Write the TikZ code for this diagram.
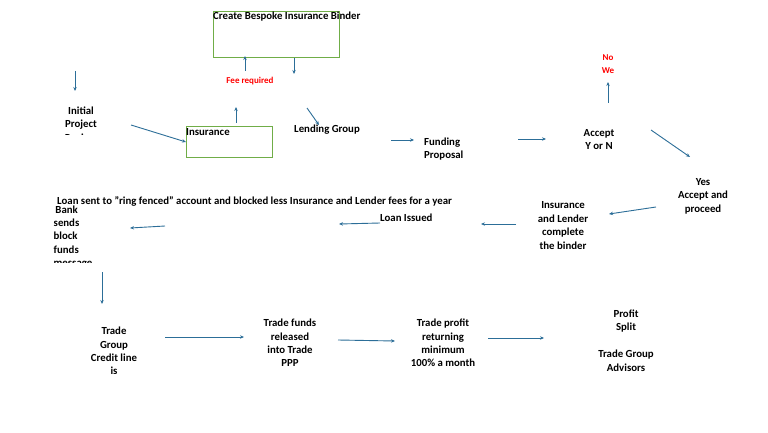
\documentclass[tikz,border=0pt]{standalone}
\usepackage{fontspec}
\setmainfont{Carlito}
\usetikzlibrary{arrows.meta}
\definecolor{arrblue}{RGB}{44,110,152}
\definecolor{boxgreen}{RGB}{112,173,71}
\definecolor{feered}{RGB}{255,0,0}
\begin{document}
\begin{tikzpicture}[x=1pt,y=-1pt,
  txt/.style={font=\fontsize{10.8}{13.4}\selectfont\bfseries, align=center, inner sep=0pt},
  redtxt/.style={font=\fontsize{9}{13}\selectfont\bfseries, text=feered, align=center, inner sep=0pt},
  gbox/.style={draw=boxgreen, line width=1.3pt, anchor=north west, inner sep=0pt},
  arr/.style={draw=arrblue, line width=0.9pt, -{Stealth[length=4pt,width=3.4pt]}}]
\useasboundingbox (0,0) rectangle (768,433);
\fill[white] (0,0) rectangle (768,433);

% boxes
\node[gbox, minimum width=126pt, minimum height=46pt] (binder) at (213,11) {};
\node[txt, anchor=west] (bindertxt) at (213,17) {Create Bespoke Insurance Binder};
\node[gbox, minimum width=86pt, minimum height=31pt] (insbox) at (186,126) {};
\node[txt, anchor=west] (instxt) at (186,132) {Insurance};

% texts
\node[redtxt] (fee) at (250,81) {Fee required};
\begin{scope}
\clip (0,0) rectangle (768,135);
\node[txt] (initial) at (81,124) {Initial\\Project\\Review};
\end{scope}
\node[txt] (lending) at (327,130) {Lending Group};
\node[txt, align=left, anchor=west] (funding) at (424,149) {Funding\\Proposal};
\node[txt] (accept) at (599,139.5) {Accept\\Y or N};
\node[redtxt] (nowe) at (608,64.5) {No\\We};
\node[txt] (yes) at (703,196) {Yes\\Accept and\\proceed};
\node[txt] (insl) at (563,225.5) {Insurance\\and Lender\\complete\\the binder};
\node[txt, anchor=west] (issued) at (380,218) {Loan Issued};
\node[txt, anchor=west] (loansent) at (57,201) {Loan sent to "ring fenced" account and blocked less Insurance and Lender fees for a year};
\begin{scope}
\clip (0,0) rectangle (768,262.5);
\node[txt, align=left] (bank) at (73,237) {\,Bank\\sends\\block\\funds\\message};
\end{scope}
\begin{scope}
\clip (0,0) rectangle (768,373);
\node[txt] (tgc) at (114,351) {Trade\\Group\\Credit line\\is};
\end{scope}
\node[txt] (tfr) at (290,343) {Trade funds\\released\\into Trade\\PPP};
\node[txt] (tpr) at (443,343) {Trade profit\\returning\\minimum\\100\% a month};
\node[txt] (profit) at (626,340.5) {Profit\\Split\\[13.4pt]Trade Group\\Advisors};

% arrow end points
\coordinate (a1s) at (245,71); \coordinate (a1e) at (245,56);
\coordinate (a2s) at (294,58); \coordinate (a2e) at (294,74);
\coordinate (a3s) at (75,71);  \coordinate (a3e) at (75,91);
\coordinate (a4s) at (131,125); \coordinate (a4e) at (186,142);
\coordinate (a5s) at (236,123); \coordinate (a5e) at (236,107);
\coordinate (a6s) at (307,108); \coordinate (a6e) at (319,125);
\coordinate (a7s) at (391,140); \coordinate (a7e) at (414,140);
\coordinate (a8s) at (518,139); \coordinate (a8e) at (546,139);
\coordinate (a9s) at (608,103); \coordinate (a9e) at (608,82);
\coordinate (a10s) at (651,130); \coordinate (a10e) at (690,157);
\coordinate (a11s) at (656,207); \coordinate (a11e) at (609,214);
\coordinate (a12s) at (516,224); \coordinate (a12e) at (481,224);
\coordinate (a13s) at (380,223); \coordinate (a13e) at (339,224);
\coordinate (a14s) at (165,226); \coordinate (a14e) at (130,228);
\coordinate (a15s) at (102,272); \coordinate (a15e) at (102,304);
\coordinate (a16s) at (165,337); \coordinate (a16e) at (244,337);
\coordinate (a17s) at (338,340); \coordinate (a17e) at (395,341);
\coordinate (a18s) at (488,338); \coordinate (a18e) at (544,338);

\foreach \i in {1,...,18} \draw[arr] (a\i s) -- (a\i e);
\end{tikzpicture}
\end{document}
